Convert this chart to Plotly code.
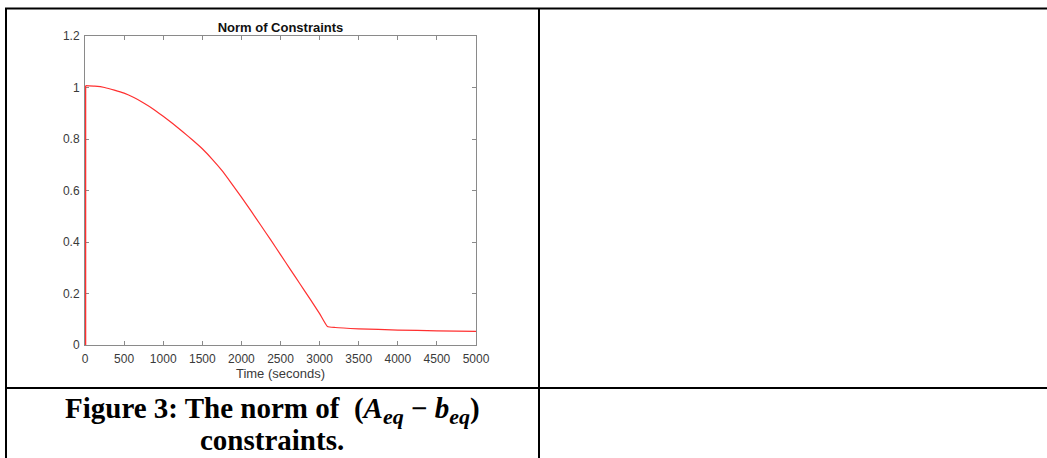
import plotly.graph_objects as go

# ---- data ----
time_s = [8, 8, 125, 250, 375, 500, 625, 750, 875, 1000, 1125, 1250, 1375,
          1500, 1625, 1750, 1875, 2000, 2125, 2250, 2375, 2500, 2625, 2750,
          2875, 3000, 3100, 3200, 3500, 4000, 4500, 5000]
norm_vals = [0, 1.007, 1.005, 1.000, 0.990, 0.978, 0.961, 0.940, 0.916, 0.888,
             0.859, 0.828, 0.796, 0.762, 0.722, 0.678, 0.627, 0.574, 0.520,
             0.464, 0.408, 0.351, 0.294, 0.237, 0.180, 0.122, 0.072, 0.068,
             0.063, 0.058, 0.055, 0.053]
x_ticks = [0, 500, 1000, 1500, 2000, 2500, 3000, 3500, 4000, 4500, 5000]
y_ticks = [0, 0.2, 0.4, 0.6, 0.8, 1.0, 1.2]
y_tick_text = ["0", "0.2", "0.4", "0.6", "0.8", "1", "1.2"]

title_text = "Norm of Constraints"
xlabel_text = "Time (seconds)"
sub_style = '<span style="font-size:22px">eq</span>'
caption_line1 = ("Figure 3: The norm of  (<i>A</i><sub><i>" + sub_style + "</i></sub> − <i>b</i><sub><i>"
                 + sub_style + "</i></sub>)")
caption_line2 = "constraints."

W, H = 1047, 458


def px(x):
    return x / W


def py(y):
    return 1 - y / H


line_color = "#ff3030"
fig = go.Figure()
# initial jump (first two samples)
fig.add_trace(go.Scatter(x=time_s[:2], y=norm_vals[:2], mode="lines",
                         line=dict(color=line_color, width=1.3),
                         showlegend=False, hoverinfo="skip"))
# rest of the curve
fig.add_trace(go.Scatter(x=time_s[1:], y=norm_vals[1:], mode="lines",
                         line=dict(color=line_color, width=1.2, shape="spline", smoothing=0.4),
                         showlegend=False, hoverinfo="skip"))

axis_color = "#8a8a8a"
sans = "Liberation Sans, Arial, sans-serif"
tick_font = dict(family=sans, size=12, color="#3a3a3a")

fig.update_layout(
    template="none",
    width=W, height=H,
    margin=dict(l=0, r=0, t=0, b=0, pad=0, autoexpand=False),
    paper_bgcolor="white", plot_bgcolor="white",
    title=dict(text="<b>" + title_text + "</b>", x=px(280.5), y=py(27.5),
               xref="paper", yref="paper", xanchor="center", yanchor="middle",
               font=dict(family=sans, size=13, color="#111111")),
    xaxis=dict(domain=[px(85), px(476)], range=[0, 5000], tickvals=x_ticks,
               automargin=False, layer="below traces",
               showgrid=False, zeroline=False, showline=True, linecolor=axis_color,
               linewidth=1, mirror="ticks", ticks="inside", ticklen=4,
               tickcolor=axis_color, tickfont=tick_font, ticklabelstandoff=3,
               title=dict(text=xlabel_text, standoff=3,
                          font=dict(family=sans, size=13, color="#3a3a3a"))),
    yaxis=dict(domain=[py(345), py(36)], range=[0, 1.2], tickvals=y_ticks,
               ticktext=y_tick_text, automargin=False, layer="below traces",
               showgrid=False, zeroline=False, showline=True, linecolor=axis_color,
               linewidth=1, mirror="ticks", ticks="inside", ticklen=4,
               tickcolor=axis_color, tickfont=tick_font, ticklabelstandoff=2),
)

# table borders
line_style = dict(color="black", width=2)
shapes = [
    dict(type="line", xref="paper", yref="paper", x0=px(5), x1=px(1047), y0=py(8.5), y1=py(8.5), line=line_style),
    dict(type="line", xref="paper", yref="paper", x0=px(6), x1=px(6), y0=py(8), y1=py(458), line=line_style),
    dict(type="line", xref="paper", yref="paper", x0=px(539), x1=px(539), y0=py(8), y1=py(458), line=line_style),
    dict(type="line", xref="paper", yref="paper", x0=px(5), x1=px(1047), y0=py(388), y1=py(388), line=line_style),
]
fig.update_layout(shapes=shapes)

cap_font = dict(family="Liberation Serif, Times New Roman, serif", size=29, color="black")
fig.add_annotation(text="<b>" + caption_line1 + "</b>", xref="paper", yref="paper",
                   x=px(272), y=py(410), xanchor="center", yanchor="middle",
                   showarrow=False, font=cap_font)
fig.add_annotation(text="<b>" + caption_line2 + "</b>", xref="paper", yref="paper",
                   x=px(272), y=py(440), xanchor="center", yanchor="middle",
                   showarrow=False, font=cap_font)

fig.write_html("out.html", config={"displayModeBar": False},
               post_script="document.body.style.margin='0px';document.body.style.overflow='hidden';")
